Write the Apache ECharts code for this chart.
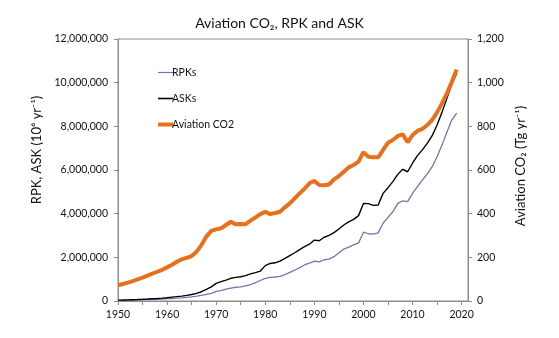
<!DOCTYPE html>
<html>
<head>
<meta charset="utf-8">
<script src="https://cdn.jsdelivr.net/npm/echarts@6/dist/echarts.min.js"></script>
<style>
  html, body { margin: 0; padding: 0; background: #fff; }
  #chart { width: 559px; height: 338px; }
</style>
</head>
<body>
<div id="chart"></div>
<script>
// Years 1950–2019
const years = [];
for (let y = 1950; y <= 2019; y++) years.push(y);

// Revenue passenger kilometres (10^6 per year)
const rpk = [
  28000, 33000, 39000, 45000, 50000, 58000, 66000, 74000, 80000, 92000,
  105000, 115000, 128000, 145000, 170000, 190000, 220000, 260000, 300000, 350000,
  440000, 480000, 540000, 590000, 630000, 650000, 690000, 750000, 840000, 940000,
  1040000, 1080000, 1100000, 1130000, 1210000, 1310000, 1410000, 1530000, 1650000, 1730000,
  1830000, 1790000, 1890000, 1920000, 2030000, 2210000, 2380000, 2470000, 2570000, 2660000,
  3150000, 3080000, 3060000, 3120000, 3560000, 3830000, 4090000, 4470000, 4590000, 4550000,
  4930000, 5240000, 5540000, 5820000, 6150000, 6610000, 7140000, 7730000, 8290000, 8600000
];

// Available seat kilometres (10^6 per year)
const ask = [
  40000, 45000, 52000, 60000, 68000, 78000, 90000, 103000, 112000, 130000,
  150000, 175000, 200000, 225000, 260000, 300000, 350000, 425000, 530000, 650000,
  810000, 885000, 960000, 1040000, 1080000, 1110000, 1160000, 1240000, 1300000, 1370000,
  1620000, 1720000, 1750000, 1830000, 1950000, 2080000, 2210000, 2350000, 2490000, 2600000,
  2790000, 2760000, 2920000, 3010000, 3130000, 3300000, 3480000, 3620000, 3740000, 3910000,
  4470000, 4460000, 4380000, 4400000, 4930000, 5190000, 5470000, 5800000, 6030000, 5920000,
  6310000, 6660000, 6920000, 7220000, 7570000, 8060000, 8640000, 9280000, 9930000, 10420000
];

// Aviation CO2 emissions (Tg per year)
const co2 = [
  72, 78, 84, 91, 99, 107, 116, 125, 134, 143,
  154, 166, 180, 191, 198, 206, 226, 256, 295, 321,
  328, 333, 348, 363, 351, 353, 352, 368, 383, 398,
  408, 398, 403, 409, 429, 447, 470, 493, 514, 539,
  550, 531, 530, 534, 557, 572, 592, 612, 623, 638,
  682, 661, 658, 658, 692, 725, 737, 756, 763, 727,
  760, 779, 788, 806, 829, 864, 905, 951, 1004, 1060
];

// Axis tick labels
const xLabelYears = [1950, 1960, 1970, 1980, 1990, 2000, 2010, 2020];
const xTickYears = [1950, 1955, 1960, 1965, 1970, 1975, 1980, 1985, 1990, 1995, 2000, 2005, 2010, 2015, 2020];

const pair = (vals) => years.map((y, i) => [y, vals[i]]);

const FONT = 'Lato';
const axisGray = '#8c8c8c';
const textColor = '#111';
const colRpk = '#7773b3';
const colAsk = '#000000';
const colCo2 = '#E8701C';

const chart = echarts.init(document.getElementById('chart'), null, { renderer: 'canvas' });

chart.setOption({
  animation: false,
  textStyle: { fontFamily: FONT },
  title: {
    text: 'Aviation CO\u2082, RPK and ASK',
    left: 'center',
    top: 11,
    textStyle: { fontFamily: FONT, fontSize: 14, fontWeight: 'normal', color: textColor }
  },
  grid: {
    left: 118, right: 91, top: 39, bottom: 37,
    show: true, borderColor: axisGray, borderWidth: 1, backgroundColor: 'transparent'
  },
  legend: {
    orient: 'vertical',
    left: 153,
    top: 62,
    itemWidth: 15,
    itemHeight: 12,
    itemGap: 15,
    textStyle: { fontFamily: FONT, fontSize: 10.5, color: textColor, padding: [0, 0, 0, -6] },
    data: [
      { name: 'RPKs', icon: 'path://M0 0H15V1.2H0Z' },
      { name: 'ASKs', icon: 'path://M0 0H15V1.6H0Z' },
      { name: 'Aviation CO2', icon: 'path://M0 0H15V4H0Z' }
    ]
  },
  xAxis: {
    type: 'value',
    min: 1950,
    max: 2021.3,
    splitLine: { show: false },
    axisLine: { show: true, lineStyle: { color: axisGray } },
    axisTick: { show: true, inside: false, length: 4, lineStyle: { color: axisGray }, customValues: xTickYears },
    axisLabel: {
      customValues: xLabelYears,
      fontFamily: FONT, fontSize: 10.5, color: textColor, margin: 8,
      formatter: (v) => String(v)
    }
  },
  yAxis: [
    {
      type: 'value',
      min: 0, max: 12000000, interval: 2000000,
      position: 'left',
      name: 'RPK, ASK (10\u2076 yr\u207B\u00B9)',
      nameLocation: 'middle',
      nameGap: 67,
      nameTextStyle: { fontFamily: FONT, fontSize: 13, color: textColor, padding: [0, 0, 0, 40] },
      splitLine: { show: false },
      axisLine: { show: true, lineStyle: { color: axisGray } },
      axisTick: { show: true, length: 4, lineStyle: { color: axisGray } },
      axisLabel: {
        fontFamily: FONT, fontSize: 10.5, color: textColor, margin: 10,
        formatter: (v) => v.toLocaleString('en-US')
      }
    },
    {
      type: 'value',
      min: 0, max: 1200, interval: 200,
      position: 'right',
      name: 'Aviation CO\u2082 (Tg yr\u207B\u00B9)',
      nameLocation: 'middle',
      nameGap: 37,
      nameTextStyle: { fontFamily: FONT, fontSize: 13, color: textColor, padding: [0, 0, 0, 8] },
      splitLine: { show: false },
      axisLine: { show: true, lineStyle: { color: axisGray } },
      axisTick: { show: true, length: 4, lineStyle: { color: axisGray } },
      axisLabel: {
        fontFamily: FONT, fontSize: 10.5, color: textColor, margin: 9,
        formatter: (v) => v.toLocaleString('en-US')
      }
    }
  ],
  series: [
    {
      name: 'RPKs', type: 'line', yAxisIndex: 0,
      data: pair(rpk), symbol: 'none',
      lineStyle: { color: colRpk, width: 1.3 },
      itemStyle: { color: colRpk },
      z: 2
    },
    {
      name: 'ASKs', type: 'line', yAxisIndex: 0,
      data: pair(ask), symbol: 'none',
      lineStyle: { color: colAsk, width: 1.4 },
      itemStyle: { color: colAsk },
      z: 3
    },
    {
      name: 'Aviation CO2', type: 'line', yAxisIndex: 1,
      data: pair(co2), symbol: 'none',
      lineStyle: { color: colCo2, width: 4 },
      itemStyle: { color: colCo2 },
      z: 4
    }
  ]
});
</script>
</body>
</html>
